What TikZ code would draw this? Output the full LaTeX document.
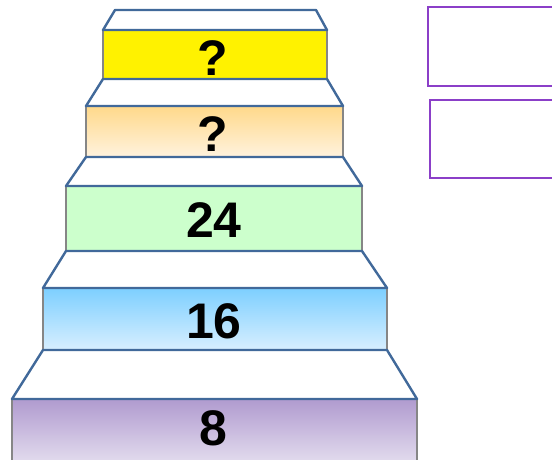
\documentclass[tikz,border=0pt]{standalone}
\usepackage{fontspec}
\setmainfont{Liberation Sans}
\definecolor{stepblue}{HTML}{41699A}
\definecolor{boxgray}{HTML}{868686}
\definecolor{answerpurple}{HTML}{8B3FC8}
\tikzset{
  stair/.style={draw=boxgray, line width=2.4pt, inner sep=0pt, font=\fontsize{50}{55}\selectfont\bfseries},
  numlabel/.style={inner sep=0pt, font=\fontsize{50}{55}\selectfont\bfseries},
  tread/.style={draw=stepblue, line width=2.4pt, fill=white, line join=round},
  answer/.style={draw=answerpurple, line width=2.8pt, fill=white}
}
\begin{document}
\begin{tikzpicture}[x=1pt,y=-1pt]
\useasboundingbox (0,0) rectangle (552,459);
\clip (0,0) rectangle (552,459);
% boxes
\node[stair, fill=yellow, minimum width=224pt, minimum height=49pt] (s5) at (215,54.5) {};
\node[stair, top color={rgb,255:red,255;green,217;blue,138}, bottom color={rgb,255:red,255;green,242;blue,222}, minimum width=257pt, minimum height=51pt] (s4) at (214.5,131.5) {};
\node[stair, fill={rgb,255:red,204;green,255;blue,204}, minimum width=296pt, minimum height=65pt] (s3) at (214,218.5) {};
\node[stair, top color={rgb,255:red,125;green,207;blue,255}, bottom color={rgb,255:red,216;green,239;blue,255}, minimum width=344pt, minimum height=62pt] (s2) at (215,319) {};
\node[stair, top color={rgb,255:red,176;green,155;blue,207}, bottom color={rgb,255:red,232;green,226;blue,241}, minimum width=405pt, minimum height=70pt] (s1) at (214.5,434) {};
% labels
\node[numlabel] (t5) at (213,58) {?};
\node[numlabel] (t4) at (213,134) {?};
\node[numlabel] (t3) at (214,220) {24};
\node[numlabel] (t2) at (214,321) {16};
\node[numlabel] (t1) at (213,428) {8};
% treads
\draw[tread] (115,10) -- (316,10) -- (327,30) -- (103,30) -- cycle;
\draw[tread] (103,79) -- (327,79) -- (343,106) -- (86,106) -- cycle;
\draw[tread] (86,157) -- (343,157) -- (362,186) -- (66,186) -- cycle;
\draw[tread] (66,251) -- (362,251) -- (387,288) -- (43,288) -- cycle;
\draw[tread] (43,350) -- (387,350) -- (417,399) -- (12,399) -- cycle;
% answer boxes
\node[answer, minimum width=140pt, minimum height=79pt] (a1) at (498,46.5) {};
\node[answer, minimum width=140pt, minimum height=78pt] (a2) at (500,139) {};
\end{tikzpicture}
\end{document}
